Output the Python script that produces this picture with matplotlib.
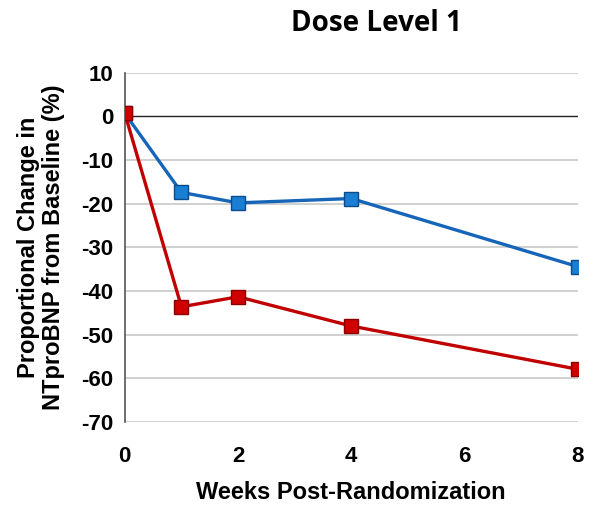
import matplotlib
matplotlib.use("Agg")
import matplotlib.pyplot as plt

weeks = [0, 1, 2, 4, 8]
blue_vals = [0.7, -17.4, -19.8, -18.8, -34.4]
red_vals = [0.7, -43.6, -41.3, -48.0, -57.9]
y_ticks = [10, 0, -10, -20, -30, -40, -50, -60, -70]
x_ticks = [0, 2, 4, 6, 8]

plt.rcParams['font.family'] = ['Liberation Sans', 'DejaVu Sans']
plt.rcParams['axes.unicode_minus'] = False

fig = plt.figure(figsize=(6.0, 5.16), dpi=100)
ax = fig.add_axes([0.208, 0.182, 0.755, 0.677])

for v in y_ticks:
    if v == 0:
        ax.axhline(v, color='#222222', lw=1.0, zorder=1)
    else:
        ax.axhline(v, color='#c8c8c8', lw=1.2, zorder=1)

ax.plot(weeks, blue_vals, color='#1565b8', lw=2.4, marker='s', markersize=10,
        markerfacecolor='#1a7fd4', markeredgecolor='#0d4a8a', markeredgewidth=1.0, zorder=3)
ax.plot(weeks, red_vals, color='#c00000', lw=2.4, marker='s', markersize=10,
        markerfacecolor='#d00000', markeredgecolor='#8a0000', markeredgewidth=1.0, zorder=4)

ax.set_xlim(0, 8)
ax.set_ylim(-70, 10)
ax.set_xticks(x_ticks)
ax.set_yticks(y_ticks)
ax.tick_params(axis='both', length=0, labelsize=16, pad=8)
for lbl in ax.get_xticklabels() + ax.get_yticklabels():
    lbl.set_fontweight('bold')
ax.tick_params(axis='x', pad=17)

for s in ['top', 'right', 'bottom']:
    ax.spines[s].set_visible(False)
ax.spines['left'].set_color('#555555')
ax.spines['left'].set_linewidth(1.2)

ax.set_xlabel('Weeks Post-Randomization', fontsize=17, fontweight='bold', labelpad=10)
ax.set_ylabel('Proportional Change in\nNTproBNP from Baseline (%)', fontsize=17,
              fontweight='bold', labelpad=12, linespacing=1.1)
fig.text(0.627, 0.955, 'Dose Level 1', ha='center', va='center', fontsize=20, fontweight='bold',
         family=['Open Sans', 'DejaVu Sans'])

fig.savefig('out.png', dpi=100)
